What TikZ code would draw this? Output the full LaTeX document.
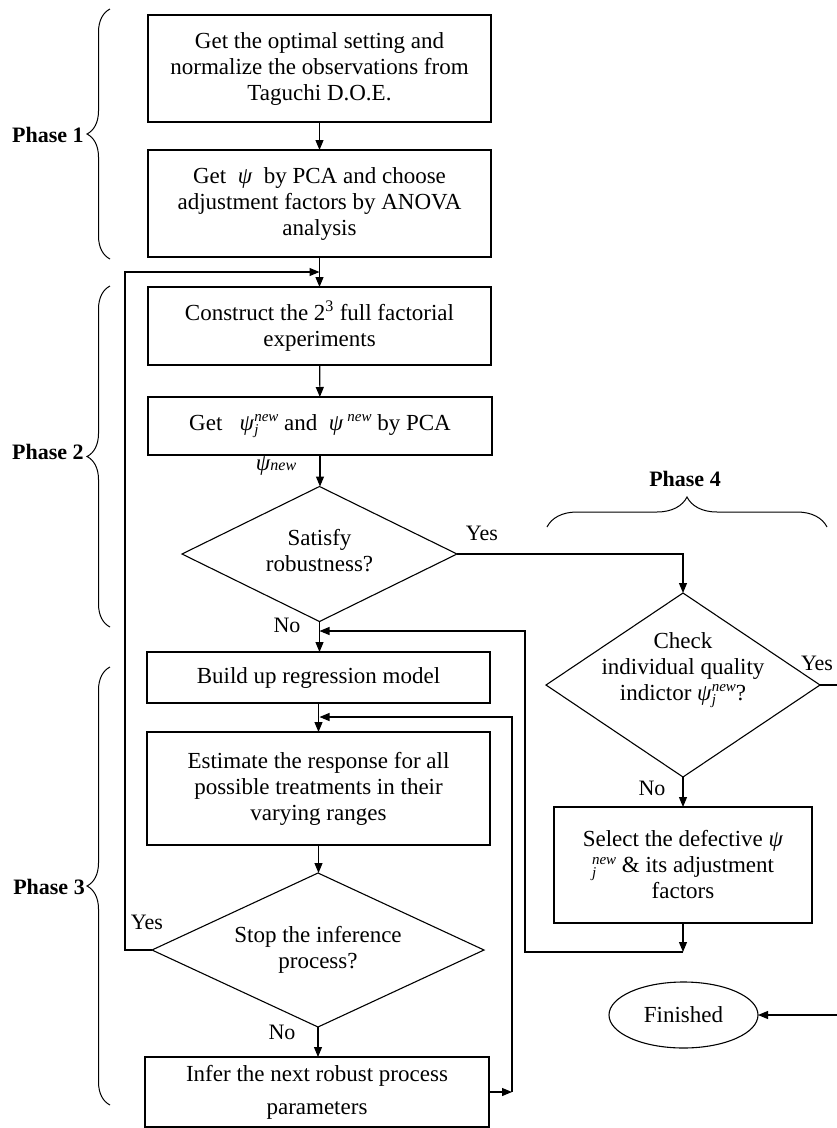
\documentclass[tikz,border=0pt]{standalone}
\usepackage{fontspec}
\setmainfont{Liberation Serif}
\usetikzlibrary{arrows.meta,shapes.geometric,decorations.pathreplacing}
\newcommand{\smallit}[1]{{\fontsize{15}{15}\selectfont\textit{#1}}}
\newcommand{\psij}{\textit{ψ}\rlap{\raisebox{-0.45ex}{\smallit{j}}}\raisebox{0.85ex}{\smallit{new}}}
\newcommand{\psinew}{\textit{ψ}\,\raisebox{0.85ex}{\smallit{new}}}
\begin{document}
\begin{tikzpicture}[x=1pt,y=-1pt, line width=1.1pt,
  every node/.style={font=\fontsize{23}{26}\selectfont},
  box/.style={draw, rectangle, inner sep=0pt, outer sep=0pt, align=center},
  dia/.style={draw, diamond, inner sep=0pt, outer sep=0pt},
  arr/.style={-{Triangle[length=10pt,width=8pt]}},
  lab/.style={font=\fontsize{22}{24}\selectfont},
  phase/.style={font=\bfseries\fontsize{22}{24}\selectfont},
  brc/.style={decorate, decoration={brace, amplitude=#1}, line width=1pt}]
\useasboundingbox (0,0) rectangle (837,1128);
\clip (0,0) rectangle (837,1128);

% boxes
\node[box, minimum width=343, minimum height=107] (b1) at (319.5,68.5)
  {Get the optimal setting and\\normalize the observations from\\Taguchi D.O.E.};
\node[box, minimum width=343, minimum height=107] (b2) at (319.5,203.5)
  {Get \ \textit{ψ} \ by PCA and choose\\adjustment factors by ANOVA\\analysis};
\node[box, minimum width=343, minimum height=78] (b3) at (319.5,326)
  {Construct the 2\textsuperscript{3} full factorial\\experiments};
\node[box, minimum width=344, minimum height=58] (b4) at (320,426)
  {Get \ \ \psij\ and \ \psinew\ by PCA};
\node[dia, minimum width=275, minimum height=135] (d1) at (319.5,554) {};
\node[align=center] (t1) at (319.5,551) {Satisfy\\robustness?};
\node[box, minimum width=343, minimum height=51] (b5) at (318.5,677.5)
  {Build up regression model};
\node[box, minimum width=343, minimum height=113] (b7) at (318.5,788.5)
  {Estimate the response for all\\possible treatments in their\\varying ranges};
\node[dia, minimum width=332, minimum height=154] (d3) at (318,950) {};
\node[align=center] (t3) at (318,950) {Stop the inference\\process?};
\node[box, minimum width=344, minimum height=70] (b9) at (317,1092)
  {Infer the next robust process\\[7pt]parameters};

\node[dia, minimum width=274, minimum height=184] (d4) at (683,685) {};
\node[align=center] (t4) at (683,670) {Check\\individual quality\\indictor \psij?};
\node[box, minimum width=258, minimum height=116] (b6) at (683,865)
  {Select the defective \textit{ψ}\\\rlap{\raisebox{-0.45ex}{\smallit{j}}}\raisebox{0.85ex}{\smallit{new}} \& its adjustment\\factors};
\node[draw, ellipse, inner sep=0pt, outer sep=0pt, minimum width=149, minimum height=66] (fin) at (683.5,1015) {Finished};

% labels
\node (psl) at (276,466) {\textit{ψ}{\fontsize{16}{16}\selectfont\textit{new}}};
\node[lab] (y1) at (482,533) {Yes};
\node[lab] (n1) at (287,625) {No};
\node[lab] (y3) at (147,922) {Yes};
\node[lab] (n3) at (282,1032) {No};
\node[lab] (n4) at (652,788) {No};
\node[lab] (y4) at (817,663) {Yes};

% phases
\node[phase] (p1) at (48,135) {Phase 1};
\node[phase] (p2) at (48,452) {Phase 2};
\node[phase] (p3) at (49,887) {Phase 3};
\node[phase, anchor=base] (p4) at (685,486) {Phase 4};
\draw[brc=23pt] (110,259) -- (110,9);
\draw[brc=23pt] (110,627) -- (110,286);
\draw[brc=23pt] (110,1105) -- (110,667);
\draw[brc=30pt] (547,527) -- (827,527);

% coordinates
\coordinate (j1) at (319.5,272);
\coordinate (l1) at (125,950);
\coordinate (j2) at (319.5,631);
\coordinate (r2) at (525,952);
\coordinate (c6) at (683,952);
\coordinate (j3) at (319.5,717);
\coordinate (c9) at (512,1092);
\coordinate (r3) at (512,717);
\coordinate (e4) at (850,685);

% connectors
\draw[arr] (b1) -- (b2);
\draw[arr] (b2) -- (b3);
\draw[arr] (d3.west) -- (l1) |- (j1);
\draw[arr] (b3) -- (b4);
\draw[arr] (b4.south) -- (b4.south |- d1.north);
\draw[arr] (d1.east) -| (d4.north);
\draw[arr] (d1.south) -- (d1.south |- b5.north);
\draw[arr] (b5.south) -- (b5.south |- b7.north);
\draw[arr] (b7.south) -- (b7.south |- d3.north);
\draw[arr] (d3.south) -- (d3.south |- b9.north);
\draw[arr] (d4.south) -- (b6.north);
\draw[arr] (b6.south) -- (c6);
\draw[arr] (c6) -- (r2) |- (j2);
\draw[arr] (b9.east) -- (c9);
\draw[arr] (c9) -- (r3) -- (j3);
\draw[arr] (d4.east) -- (e4) |- (fin.east);
\end{tikzpicture}
\end{document}
